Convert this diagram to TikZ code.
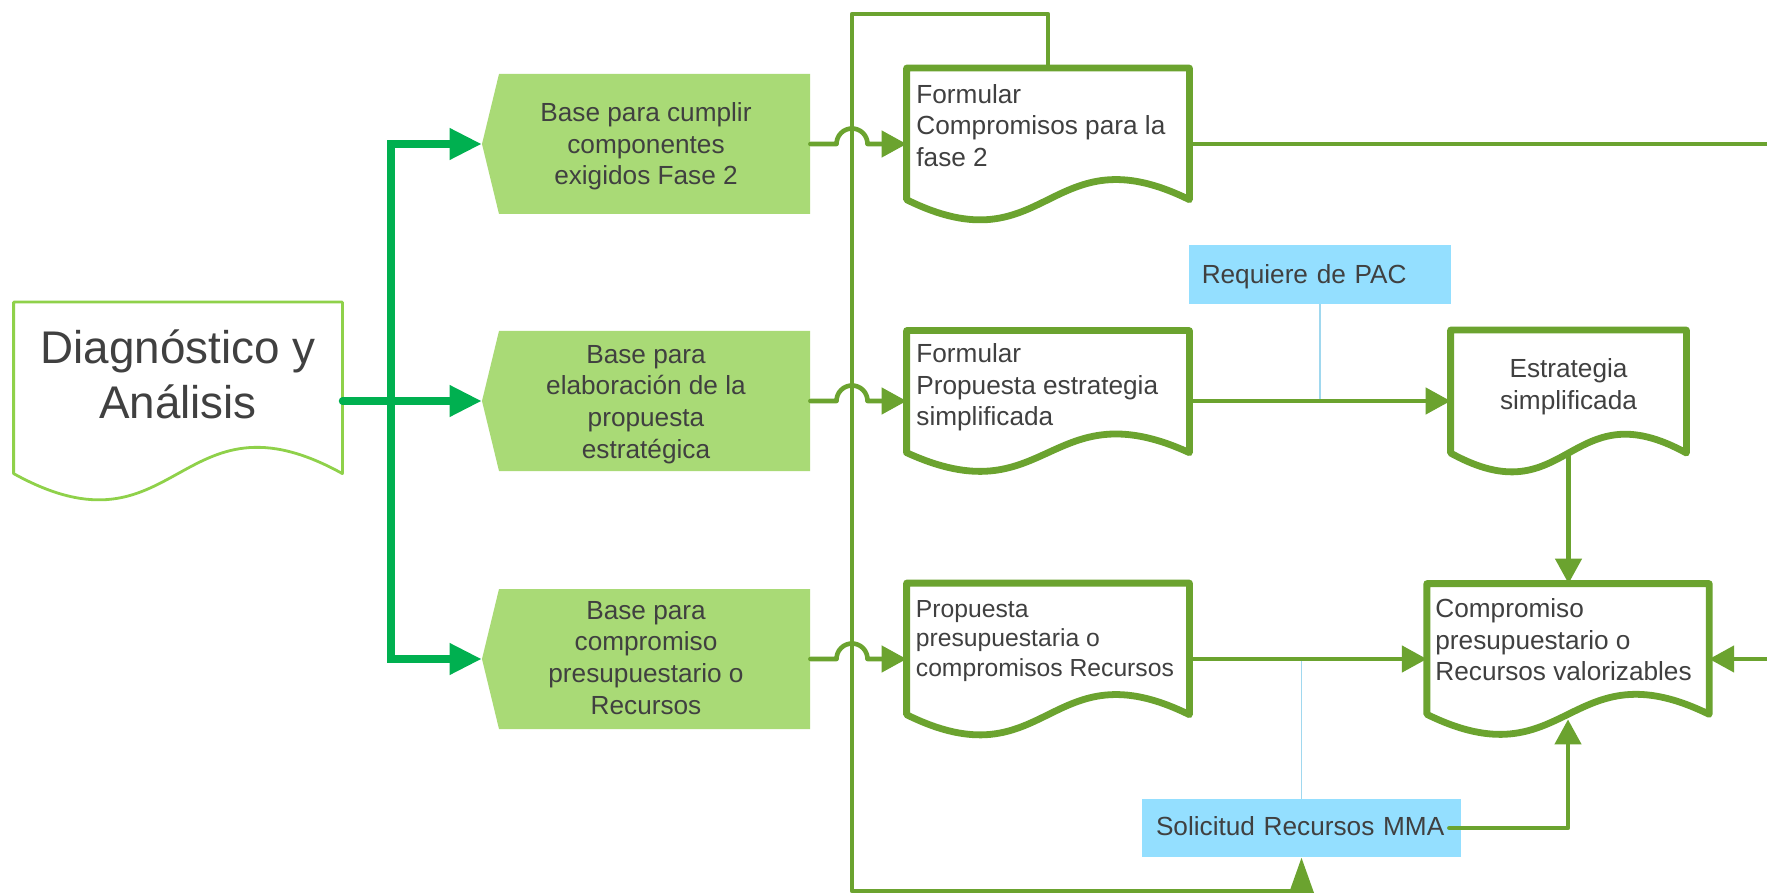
\documentclass[tikz,border=0pt]{standalone}
\usepackage{fontspec}
\setmainfont{Liberation Sans}
\usetikzlibrary{arrows.meta,calc}
\definecolor{cOlive}{HTML}{6BA32F}
\definecolor{cBase}{HTML}{A9DA76}
\definecolor{cDiag}{HTML}{8FD14A}
\definecolor{cDG}{HTML}{00B050}
\definecolor{cBlue}{HTML}{94DFFF}
\definecolor{cThin}{HTML}{A0D8EF}
\definecolor{cText}{HTML}{404040}
% document outline for node #2 with style #1
\newcommand{\docout}[2]{%
  \draw[#1] let \p1=(#2.north west), \p2=(#2.south east) in
    (\x1,\y1) -- (\x2,\y1) -- (\x2,{\y1-0.867*(\y1-\y2)})
    .. controls ({0.5*\x1+0.5*\x2},{\y1-0.407*(\y1-\y2)}) and ({0.5*\x1+0.5*\x2},{\y1-1.327*(\y1-\y2)})
    .. (\x1,{\y1-0.867*(\y1-\y2)}) -- cycle;}
% base pentagon centred at #1
\newcommand{\basepoly}[1]{%
  \fill[cBase] ($(#1)+(-164,0)$) -- ($(#1)+(-147,-70)$) -- ($(#1)+(164,-70)$)
    -- ($(#1)+(164,70)$) -- ($(#1)+(-147,70)$) -- cycle;}
\begin{document}
\begin{tikzpicture}[x=0.5pt,y=-0.5pt,
  txt/.style={text=cText, font=\fontsize{13.1pt}{15.85pt}\selectfont, inner sep=0pt},
  smalltxt/.style={text=cText, font=\fontsize{12.35pt}{14.75pt}\selectfont, inner sep=0pt},
  basebox/.style={inner sep=0pt, minimum width=164pt, minimum height=70pt},
  docbox/.style={inner sep=0pt, draw=none, minimum width=141pt},
  docline/.style={draw=cOlive, line width=3.4pt, line join=round, fill=white},
  conn/.style={draw=cOlive, line width=2.3pt, line cap=round, line join=round},
  arr/.style={-{Triangle[length=12.5pt,width=13pt]}},
  tallarr/.style={-{Triangle[length=18pt,width=12pt]}},
  gconn/.style={draw=cDG, line width=3.6pt, line cap=round},
  garr/.style={-{Triangle[length=16pt,width=15pt]}},
  thinb/.style={draw=cThin, line width=0.6pt},
  bluebox/.style={txt, fill=cBlue, inner sep=0pt, align=left}
]
\path[use as bounding box, fill=white] (0,0) rectangle (1767,893);
\clip (0,0) rectangle (1767,893);

% ---- Diagnostico
\node[docbox, minimum width=164pt, minimum height=98.5pt] (diag) at (178,401) {};
\docout{draw=cDiag, line width=1.4pt, fill=white, line join=round}{diag}
\node[txt, font=\fontsize{22.9pt}{27.5pt}\selectfont, align=center, anchor=north] (diagt) at (178,329) {Diagnóstico y\\Análisis};

% ---- Base shapes
\basepoly{646,144}
\node[basebox] (b1) at (646,144) {};
\node[txt, align=center] (b1t) at (646,146.3) {Base para cumplir\\componentes\\exigidos Fase 2};
\basepoly{646,401}
\node[basebox] (b2) at (646,401) {};
\node[txt, align=center] (b2t) at (646,404.4) {Base para\\elaboración de la\\propuesta\\estratégica};
\basepoly{646,659}
\node[basebox] (b3) at (646,659) {};
\node[txt, align=center] (b3t) at (646,657.9) {Base para\\compromiso\\presupuestario o\\Recursos};

% ---- blue boxes
\node[bluebox, minimum width=131.25pt, minimum height=29.5pt, text width=118.25pt,
      text height=12.1pt, text depth=2.76pt] (req) at (1320,274.5) {Requiere de PAC};
\node[bluebox, minimum width=159.5pt, minimum height=29pt, text width=145.5pt,
      text height=9.7pt, text depth=2.5pt] (sol) at (1301.5,828) {Solicitud Recursos MMA};

% thin links
\draw[thinb] (req.south) -- (req.south |- 0,401);
\draw[thinb] (sol.north) -- (sol.north |- 0,659);

% ---- Document nodes
\node[docbox, minimum height=75.5pt] (d1) at (1048,144) {};
\node[docbox, minimum height=70pt] (d2) at (1048,401) {};
\node[docbox, minimum height=75.5pt] (d3) at (1048,659) {};
\node[docbox, minimum width=117.5pt, minimum height=70.5pt] (estr) at (1568.5,401) {};
\node[docbox, minimum width=140.75pt, minimum height=75pt] (comp) at (1568,659) {};

% ---- connectors (olive)
\coordinate (jx) at (852,0);
\draw[conn, arr] (b1.east) -- ($(b1.east -| jx)+(-15.5,0)$) arc[start angle=180, end angle=360, radius=15.5] -- (d1.west);
\draw[conn, arr] (b2.east) -- ($(b2.east -| jx)+(-15.5,0)$) arc[start angle=180, end angle=360, radius=15.5] -- (d2.west);
\draw[conn, arr] (b3.east) -- ($(b3.east -| jx)+(-15.5,0)$) arc[start angle=180, end angle=360, radius=15.5] -- (d3.west);

\coordinate (ltop) at (852,14);
\coordinate (lbot) at (852,891);
\draw[conn, tallarr] (d1.north) |- (ltop) -- (lbot) -| (sol.south);

\coordinate (offr) at (1800,144);
\draw[conn, arr] (d1.east) -- (offr) |- (comp.east);
\draw[conn, arr] (d2.east) -- (estr.west);
\draw[conn, arr] (d3.east) -- (comp.west);

\coordinate (estrw) at ($(estr.south)+(0,-18.75)$);
\draw[conn, arr] (estrw) -- (estrw |- comp.north);
\coordinate (solout) at ($(sol.east)+(-12,0)$);
\coordinate (compw) at ($(comp.south)+(0,-15)$);
\draw[conn, arr] (solout) -| (compw);

% ---- document outlines
\docout{docline}{d1}
\docout{docline}{d2}
\docout{docline}{d3}
\docout{docline}{estr}
\docout{docline}{comp}

% ---- document texts
\node[txt, align=left, anchor=north west] (t1) at (916,83.8) {Formular\\Compromisos para la\\fase 2};
\node[txt, align=left, anchor=north west] (t2) at (916,343) {Formular\\Propuesta estrategia\\simplificada};
\node[smalltxt, align=left, anchor=north west] (t3) at (915.5,600) {Propuesta\\presupuestaria o\\compromisos Recursos};
\node[txt, align=center, anchor=north] (t4) at (1568.5,358) {Estrategia\\simplificada};
\node[txt, align=left, anchor=north west] (t5) at (1435,598) {Compromiso\\presupuestario o\\Recursos valorizables};

% ---- Diagnostico connectors (green)
\coordinate (bus) at (391,401);
\draw[gconn, garr] (diag.east) -- (b2.west);
\draw[gconn, garr, line cap=butt] (bus) |- (b1.west);
\draw[gconn, garr, line cap=butt] (bus) |- (b3.west);
\end{tikzpicture}
\end{document}
